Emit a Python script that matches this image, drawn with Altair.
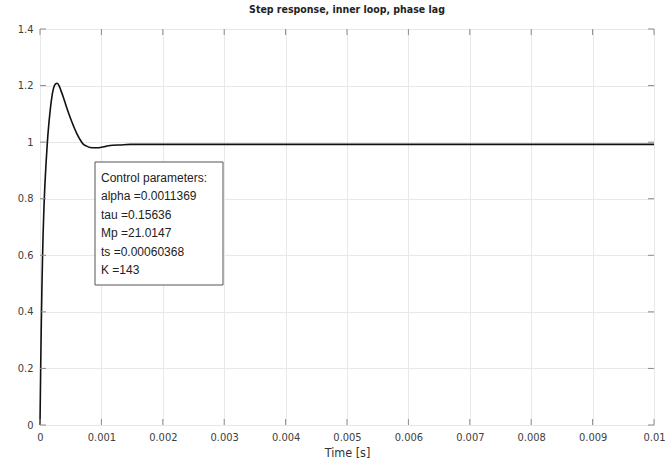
import altair as alt
import pandas as pd

# Step response samples (time in s, output)
time_s = [0, 0.00001, 0.00002, 0.00003, 0.00004, 0.00005, 0.00006, 0.00007, 0.00008,
          0.0001, 0.00012, 0.00014, 0.00016, 0.00019, 0.00022, 0.00025, 0.00028,
          0.00031, 0.00034, 0.00038, 0.00043, 0.00049, 0.00055, 0.0006, 0.00065,
          0.0007, 0.00076, 0.00082, 0.00088, 0.00094, 0.001, 0.00107, 0.00114,
          0.0012, 0.0013, 0.00147, 0.0017, 0.002, 0.0023, 0.003, 0.005, 0.01]
response = [0, 0.18, 0.34, 0.47, 0.58, 0.67, 0.74, 0.80, 0.85,
            0.93, 1.0, 1.055, 1.10, 1.155, 1.19, 1.205, 1.208,
            1.2, 1.183, 1.159, 1.125, 1.088, 1.055, 1.03, 1.01,
            0.994, 0.986, 0.981, 0.980, 0.980, 0.982, 0.985, 0.988,
            0.989, 0.990, 0.992, 0.992, 0.992, 0.992, 0.992, 0.992, 0.992]

x_ticks = [0, 0.001, 0.002, 0.003, 0.004, 0.005, 0.006, 0.007, 0.008, 0.009, 0.01]
y_ticks = [0, 0.2, 0.4, 0.6, 0.8, 1.0, 1.2, 1.4]

box_lines = ["Control parameters:", "alpha =0.0011369", "tau =0.15636",
             "Mp =21.0147", "ts =0.00060368", "K =143"]

W, H = 614, 396
NARROW = "Liberation Sans Narrow, Arial Narrow, DejaVu Sans Condensed, sans-serif"

df = pd.DataFrame({"t": time_s, "y": response})
xt = pd.DataFrame({"v": x_ticks})
yt = pd.DataFrame({"v": y_ticks})

xscale = alt.Scale(domain=[0, 0.01], nice=False, zero=False)
yscale = alt.Scale(domain=[0, 1.4], nice=False)

line = alt.Chart(df).mark_line(color="#111111", strokeWidth=1.6, interpolate="monotone").encode(
    x=alt.X("t:Q", scale=xscale,
            axis=alt.Axis(values=x_ticks, format="~g", title="Time [s]", tickSize=0,
                          labelPadding=6, titlePadding=4, domain=False,
                          labelFont=NARROW, labelFontSize=11, labelColor="#404040",
                          titleFont=NARROW, titleFontSize=12.5, titleFontWeight="normal",
                          titleColor="#333333", gridColor="#e8e8e8", labelFlush=False)),
    y=alt.Y("y:Q", scale=yscale,
            axis=alt.Axis(values=y_ticks, format="~g", title=None, tickSize=0,
                          labelPadding=7, domain=False,
                          labelFont=NARROW, labelFontSize=11, labelColor="#404040",
                          gridColor="#e8e8e8")),
)

tick_color = "#8c8c8c"
xb = alt.Chart(xt).mark_rule(color=tick_color, strokeWidth=1).encode(
    x=alt.X("v:Q", scale=xscale), y=alt.value(H), y2=alt.value(H - 6))
xtp = alt.Chart(xt).mark_rule(color=tick_color, strokeWidth=1).encode(
    x=alt.X("v:Q", scale=xscale), y=alt.value(0), y2=alt.value(6))
yl = alt.Chart(yt).mark_rule(color=tick_color, strokeWidth=1).encode(
    y=alt.Y("v:Q", scale=yscale), x=alt.value(0), x2=alt.value(6))
yr = alt.Chart(yt).mark_rule(color=tick_color, strokeWidth=1).encode(
    y=alt.Y("v:Q", scale=yscale), x=alt.value(W), x2=alt.value(W - 6))

box = alt.Chart(pd.DataFrame({"a": [0]})).mark_rect(
    fill="white", stroke="#555555", strokeWidth=1).encode(
    x=alt.value(55), x2=alt.value(183), y=alt.value(133), y2=alt.value(256))

txt = alt.Chart(pd.DataFrame({"a": [0]})).mark_text(
    align="left", baseline="middle", font="Liberation Sans, Arial, sans-serif",
    fontSize=12, color="#222222", lineBreak="\n", lineHeight=18.4).encode(
    x=alt.value(61), y=alt.value(149), text=alt.value("\n".join(box_lines)))

chart = alt.layer(line, xb, xtp, yl, yr, box, txt).properties(
    width=W, height=H,
    title=alt.TitleParams("Step response, inner loop, phase lag", font=NARROW,
                          fontSize=10.5, fontWeight="bold", color="#222222",
                          anchor="middle", offset=8),
    autosize=alt.AutoSizeParams(type="none"),
    padding={"left": 40, "top": 29, "right": 15, "bottom": 37},
).configure_view(stroke="#8c8c8c", strokeWidth=1).configure(background="white")

chart.save("out.html", embed_options={"renderer": "svg", "actions": False})
